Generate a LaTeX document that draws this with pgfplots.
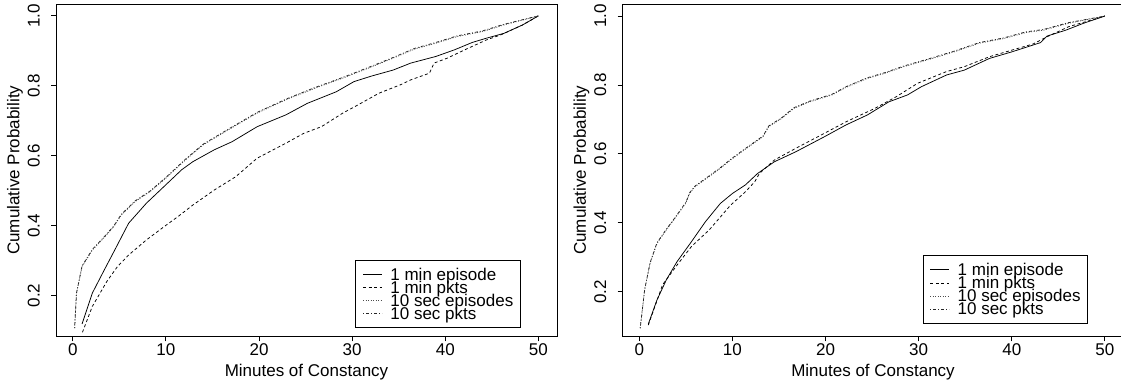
\documentclass[border=0pt]{standalone}
\usepackage{fontspec}
\setmainfont{Liberation Sans}
\usepackage{pgfplots}
\pgfplotsset{compat=1.18}
\newcommand{\fs}{\fontsize{17}{20}\selectfont}
\pgfplotsset{
  rstyle/.style={
    scale only axis, width=501pt, height=332.5pt,
    xmin=-1.8, xmax=52,
    xtick={0,10,20,30,40,50}, xticklabels={0,10,20,30,40,50},
    ytick={0.2,0.4,0.6,0.8,1.0}, yticklabels={0.2,0.4,0.6,0.8,1.0},
    tick pos=left, tick align=outside, major tick length=5pt,
    axis line style={line width=0.9pt, black},
    tick style={line width=0.9pt, black},
    xticklabel style={font=\fs, anchor=north, inner sep=0pt, yshift=-2pt},
    yticklabel style={font=\fs, inner sep=0pt, xshift=-11pt, rotate=90, anchor=south},
    xlabel={Minutes of Constancy}, ylabel={Cumulative Probability},
    xlabel style={font=\fs, at={([yshift=-35.5pt]axis description cs:0.5,0)}, anchor=center},
    ylabel style={font=\fs, at={([xshift=-41pt]axis description cs:0,0.5)}, anchor=center},
    legend cell align=left,
    legend style={font=\fs, draw=black, line width=0.8pt, inner xsep=7pt, inner ysep=7.5pt,
      row sep=0pt, column sep=8pt,
      nodes={inner sep=0pt, text height=12.4pt, text depth=0.7pt}},
    legend image code/.code={\draw[#1] (0pt,0pt) -- (19pt,0pt);},
    every axis plot/.append style={line width=0.75pt, black},
  },
  s1/.style={solid},
  s2/.style={dash pattern=on 3pt off 2.5pt},
  s3/.style={dash pattern=on 1pt off 1.5pt, black!70},
  s4/.style={dash pattern=on 1pt off 2pt on 3pt off 2pt, black!85},
}
\begin{document}
\fs
\begin{tikzpicture}
\begin{axis}[rstyle, at={(56pt,50.5pt)}, anchor=south west,
  ymin=0.083, ymax=1.034,
  legend style={at={(0.9275,0.0256)}, anchor=south east}]
\addplot[s1] coordinates {(1.0,0.119)(2.1,0.207)(3.3,0.269)(4.6,0.335)(6.0,0.407)(7.9,0.464)(10,0.517)(11.7,0.56)(12.9,0.583)(15.2,0.617)(17.1,0.64)(19.8,0.683)(22.9,0.717)(25.2,0.75)(28.3,0.783)(30.2,0.812)(32.1,0.828)(34.4,0.845)(36.3,0.865)(39,0.884)(41,0.903)(42.9,0.924)(44.4,0.936)(46.3,0.95)(48.3,0.974)(50,1.0)};
\addlegendentry{1 min episode}
\addplot[s2] coordinates {(1.04,0.095)(2.1,0.169)(3.65,0.24)(4.8,0.283)(6,0.316)(7.9,0.359)(9.8,0.397)(11.3,0.426)(12.9,0.459)(15.2,0.502)(17.5,0.54)(19.8,0.593)(22.9,0.636)(24.8,0.664)(26.7,0.683)(29,0.722)(30.6,0.745)(32.9,0.779)(35.2,0.803)(36.3,0.817)(38.3,0.836)(38.8,0.865)(40.2,0.879)(42.1,0.903)(44.4,0.931)(46,0.946)(48.3,0.974)(50,1.0)};
\addlegendentry{1 min pkts}
\addplot[s3] coordinates {(0.2,0.107)(0.4,0.207)(1.0,0.283)(2.1,0.33)(3.3,0.364)(4.4,0.397)(5.2,0.43)(6.7,0.469)(8.3,0.497)(10,0.536)(12.1,0.588)(14,0.631)(16.7,0.674)(19.8,0.722)(22.9,0.76)(26,0.793)(29,0.822)(31.7,0.85)(34.4,0.879)(36.7,0.905)(39,0.922)(41.3,0.941)(44,0.955)(46.3,0.974)(50,1.0)};
\addlegendentry{10 sec episodes}
\addplot[s4] coordinates {(0.2,0.107)(0.4,0.207)(1.0,0.285)(2.1,0.332)(3.3,0.366)(4.4,0.399)(5.2,0.432)(6.7,0.471)(8.3,0.499)(10,0.538)(12.1,0.59)(14,0.633)(16.7,0.676)(19.8,0.724)(22.9,0.762)(26,0.795)(29,0.824)(31.7,0.852)(34.4,0.881)(36.7,0.907)(39,0.924)(41.3,0.943)(44,0.957)(46.3,0.976)(50,1.0)};
\addlegendentry{10 sec pkts}
\end{axis}
\begin{axis}[rstyle, at={(622.5pt,50.5pt)}, anchor=south west,
  ymin=0.07, ymax=1.035,
  legend style={at={(0.929,0.039)}, anchor=south east}]
\addplot[s1] coordinates {(0.97,0.106)(1.9,0.176)(2.9,0.234)(4.05,0.287)(5.6,0.345)(7.1,0.403)(8.7,0.456)(10,0.485)(11.4,0.51)(12.7,0.543)(14.5,0.577)(16.8,0.606)(19.9,0.65)(22.2,0.684)(24.5,0.713)(26.8,0.751)(28.8,0.771)(30.3,0.795)(33,0.829)(34.9,0.843)(37.6,0.877)(40,0.896)(42.3,0.916)(43.1,0.923)(43.8,0.942)(45.8,0.959)(47.7,0.979)(50,1.0)};
\addlegendentry{1 min episode}
\addplot[s2] coordinates {(0.97,0.103)(2.5,0.22)(4.05,0.277)(5.6,0.331)(7.5,0.379)(9.8,0.451)(11.4,0.49)(12.4,0.519)(12.9,0.543)(14.5,0.582)(16.8,0.616)(19.9,0.66)(22.2,0.693)(25.3,0.732)(27.6,0.766)(29.9,0.805)(33,0.839)(34.9,0.853)(37.6,0.882)(40,0.901)(42.3,0.919)(43.8,0.94)(46.1,0.969)(50,1.0)};
\addlegendentry{1 min pkts}
\addplot[s3] coordinates {(0.1,0.094)(0.58,0.205)(1.16,0.282)(1.9,0.34)(2.9,0.379)(3.7,0.408)(4.6,0.442)(5.0,0.457)(5.4,0.485)(6.0,0.505)(7.5,0.534)(8.7,0.558)(9.8,0.582)(11,0.606)(12.5,0.635)(13.3,0.65)(13.9,0.679)(15.3,0.703)(16.6,0.732)(18.3,0.751)(20.7,0.771)(22.2,0.793)(24.5,0.819)(26.4,0.834)(28.4,0.853)(31.1,0.874)(33.8,0.896)(36.5,0.921)(39.2,0.935)(41.5,0.952)(43.4,0.959)(46.1,0.979)(50,1.0)};
\addlegendentry{10 sec episodes}
\addplot[s4] coordinates {(0.1,0.094)(0.58,0.207)(1.16,0.284)(1.9,0.342)(2.9,0.381)(3.7,0.41)(4.6,0.444)(5.0,0.459)(5.4,0.487)(6.0,0.507)(7.5,0.536)(8.7,0.56)(9.8,0.584)(11,0.608)(12.5,0.637)(13.3,0.652)(13.9,0.681)(15.3,0.705)(16.6,0.734)(18.3,0.753)(20.7,0.773)(22.2,0.795)(24.5,0.821)(26.4,0.836)(28.4,0.855)(31.1,0.876)(33.8,0.898)(36.5,0.923)(39.2,0.937)(41.5,0.954)(43.4,0.961)(46.1,0.981)(50,1.0)};
\addlegendentry{10 sec pkts}
\end{axis}
\pgfresetboundingbox
\useasboundingbox (0,0) rectangle (1121pt,387pt);
\end{tikzpicture}
\end{document}
